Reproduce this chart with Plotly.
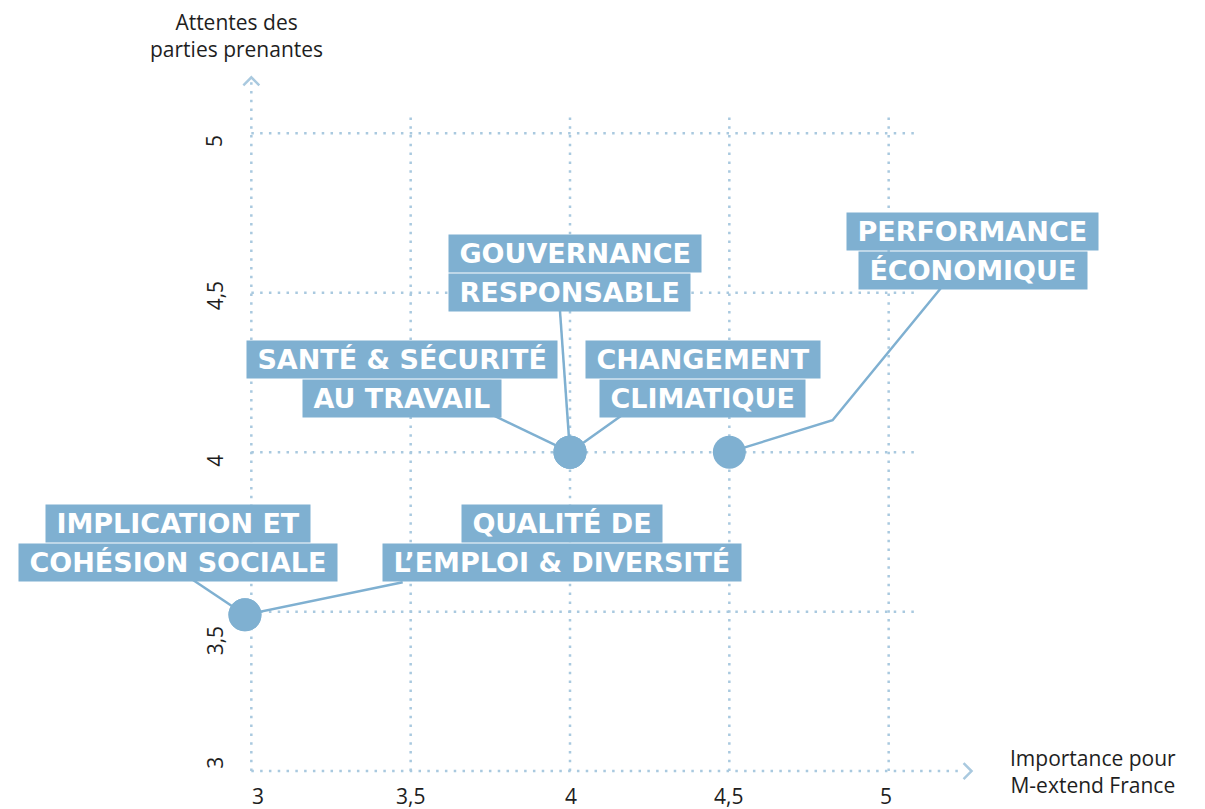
import plotly.graph_objects as go

# ---- data ----
topics = ["IMPLICATION ET<br>COHÉSION SOCIALE",
          "QUALITÉ DE<br>L’EMPLOI & DIVERSITÉ",
          "SANTÉ & SÉCURITÉ<br>AU TRAVAIL",
          "GOUVERNANCE<br>RESPONSABLE",
          "CHANGEMENT<br>CLIMATIQUE",
          "PERFORMANCE<br>ÉCONOMIQUE"]
importance = [2.98, 2.98, 4.0, 4.0, 4.0, 4.5]      # Importance pour M-extend France
attentes = [3.49, 3.49, 4.0, 4.0, 4.0, 4.0]        # Attentes des parties prenantes
x_ticks = [3, 3.5, 4, 4.5, 5]
x_tick_labels = ["3", "3,5", "4", "4,5", "5"]
y_ticks = [3, 3.5, 4, 4.5, 5]
y_tick_labels = ["3", "3,5", "4", "4,5", "5"]

# ---- layout helpers (positions / styles) ----
# label anchor: (x, y boundary between the two lines, xanchor)
label_pos = [(2.769, 3.715, "center"),
             (3.974, 3.715, "center"),
             (3.472, 4.228, "center"),
             (3.616, 4.562, "left"),
             (4.416, 4.228, "center"),
             (5.264, 4.632, "center")]
# leader line waypoints from label towards the point
leaders = [[(2.817, 3.599)],
           [(3.475, 3.592)],
           [(3.758, 4.116)],
           [(3.968, 4.451)],
           [(4.163, 4.116)],
           [(5.166, 4.517), (4.824, 4.100)]]
y_tick_shift = [8, -29, -9, -3, -8]
x_tick_shift = [7, 0, 1, -1, -3]

BLUE = "#7fb0d1"
GRID = "#a9c9df"
TXT = "#1e1e1e"
LABEL_FONT = dict(family="DejaVu Sans, Inter, sans-serif", size=27, color="white", weight="bold")
TICK_FONT = dict(family="Open Sans, Lato, sans-serif", size=21, color=TXT)
TITLE_FONT = dict(family="Open Sans, Lato, sans-serif", size=21, color=TXT)

fig = go.Figure()

# leader lines
for (px, py), pts in zip(zip(importance, attentes), leaders):
    xs = [p[0] for p in pts] + [px]
    ys = [p[1] for p in pts] + [py]
    fig.add_trace(go.Scatter(x=xs, y=ys, mode="lines",
                             line=dict(color=BLUE, width=2.5),
                             hoverinfo="skip", showlegend=False))

# points
fig.add_trace(go.Scatter(x=importance, y=attentes, mode="markers",
                         marker=dict(size=33, color=BLUE, line=dict(width=0)),
                         text=[t.replace("<br>", " ") for t in topics],
                         hoverinfo="text", showlegend=False))

shapes = []
dot = "2.5px,6.3px"
# grid lines
for xv in x_ticks[1:]:
    shapes.append(dict(type="line", xref="x", yref="y", x0=xv, x1=xv, y0=3, y1=5.05,
                       line=dict(color=GRID, width=2.5, dash=dot), layer="below"))
for yv in y_ticks[1:]:
    shapes.append(dict(type="line", xref="x", yref="y", x0=3, x1=5.09, y0=yv, y1=yv,
                       line=dict(color=GRID, width=2.5, dash=dot), layer="below"))
# axes
shapes.append(dict(type="line", xref="x", yref="y", x0=3, x1=3, y0=3, y1=5.16,
                   line=dict(color=GRID, width=2.5, dash=dot), layer="below"))
shapes.append(dict(type="line", xref="x", yref="y", x0=3, x1=5.22, y0=3, y1=3,
                   line=dict(color=GRID, width=2.5, dash=dot), layer="below"))
# arrow heads
shapes.append(dict(type="path", xref="x", yref="y",
                   path="M 2.975,5.15 L 3.0,5.175 L 3.025,5.15",
                   line=dict(color=GRID, width=2.5)))
shapes.append(dict(type="path", xref="x", yref="y",
                   path="M 5.235,3.025 L 5.26,3.0 L 5.235,2.975",
                   line=dict(color=GRID, width=2.5)))

annotations = []
NB = "\u00a0"
for text, (lx, ly, xa) in zip(topics, label_pos):
    top, bottom = text.split("<br>")
    for line, ya in ((top, "bottom"), (bottom, "top")):
        annotations.append(dict(x=lx, y=ly, xref="x", yref="y", xanchor=xa, yanchor=ya,
                                text=NB + line + NB, showarrow=False, bgcolor=BLUE,
                                height=35, valign="middle",
                                borderpad=1, font=LABEL_FONT, align="center"))

for xv, lab, sh in zip(x_ticks, x_tick_labels, x_tick_shift):
    annotations.append(dict(x=xv, y=2.922, xref="x", yref="y", text=lab, showarrow=False,
                            xanchor="center", yanchor="middle", xshift=sh, font=TICK_FONT))
for yv, lab, sh in zip(y_ticks, y_tick_labels, y_tick_shift):
    annotations.append(dict(x=2.885, y=yv, xref="x", yref="y", text=lab, showarrow=False,
                            textangle=-90, xanchor="center", yanchor="middle", yshift=sh,
                            font=TICK_FONT))

annotations.append(dict(x=2.955, y=5.305, xref="x", yref="y",
                        text="Attentes des<br>parties prenantes", showarrow=False,
                        xanchor="center", yanchor="middle", align="center", font=TITLE_FONT))
annotations.append(dict(x=1.047, y=3.0, xref="paper", yref="y",
                        text="Importance pour<br>M-extend France", showarrow=False,
                        xanchor="center", yanchor="middle", align="center", font=TITLE_FONT))

# page body has an 8px margin: the figure is drawn at (8, 8)
fig.update_layout(
    width=1197, height=801,
    margin=dict(l=84, r=157, t=4, b=6),
    plot_bgcolor="white", paper_bgcolor="white",
    xaxis=dict(range=[2.5, 5.5], showgrid=False, zeroline=False, showticklabels=False,
               showline=False, fixedrange=True),
    yaxis=dict(range=[2.9, 5.38], showgrid=False, zeroline=False, showticklabels=False,
               showline=False, fixedrange=True),
    shapes=shapes, annotations=annotations,
)

fig.write_html("out.html")
